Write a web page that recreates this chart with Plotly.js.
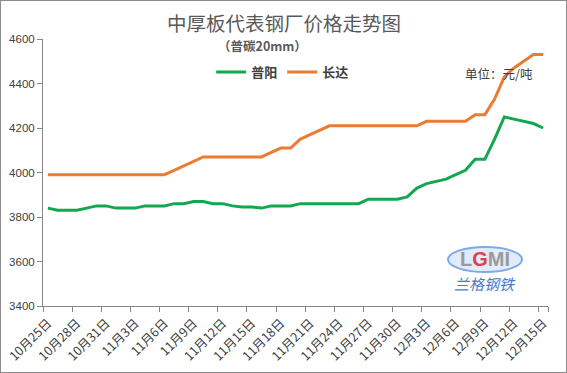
<!DOCTYPE html>
<html>
<head>
<meta charset="utf-8">
<script src="https://cdn.plot.ly/plotly-3.0.1.min.js"></script>
<style>
html,body{margin:0;padding:0;background:#fff;}
#wrap{position:relative;width:567px;height:373px;}
#chart{width:567px;height:373px;}
#frame{position:absolute;left:0;top:0;width:565px;height:371px;border:1px solid #8c8c8c;pointer-events:none;}
</style>
</head>
<body>
<div id="wrap"><div id="chart"></div><div id="frame"></div></div>
<script>
const dates = [
 "10月25日","10月26日","10月27日","10月28日","10月29日","10月30日","10月31日",
 "11月1日","11月2日","11月3日","11月4日","11月5日","11月6日","11月7日","11月8日","11月9日","11月10日",
 "11月11日","11月12日","11月13日","11月14日","11月15日","11月16日","11月17日","11月18日","11月19日","11月20日",
 "11月21日","11月22日","11月23日","11月24日","11月25日","11月26日","11月27日","11月28日","11月29日","11月30日",
 "12月1日","12月2日","12月3日","12月4日","12月5日","12月6日","12月7日","12月8日","12月9日","12月10日",
 "12月11日","12月12日","12月13日","12月14日","12月15日"
];
const puyang = [
 3840,3830,3830,3830,3840,3850,3850,3840,3840,3840,3850,3850,3850,3860,3860,3870,3870,
 3860,3860,3850,3845,3845,3840,3850,3850,3850,3860,3860,3860,3860,3860,3860,3860,3880,
 3880,3880,3880,3890,3930,3950,3960,3970,3990,4010,4060,4060,4150,4250,4240,4230,4220,4200
];
const changda = [
 3990,3990,3990,3990,3990,3990,3990,3990,3990,3990,3990,3990,3990,4010,4030,4050,4070,
 4070,4070,4070,4070,4070,4070,4090,4110,4110,4150,4170,4190,4210,4210,4210,4210,4210,
 4210,4210,4210,4210,4210,4230,4230,4230,4230,4230,4260,4260,4330,4430,4470,4500,4530,4530
];
const seriesNames = ["普阳","长达"];
const seriesColors = ["#13A84F","#EC7B33"];
const yTicks = [3400,3600,3800,4000,4200,4400,4600];
const xTicks = dates.filter((d,i)=>i%3===0);

const cjk = '"Noto Sans CJK SC", "Microsoft YaHei", sans-serif';
const traces = [
 {x: dates, y: puyang, name: seriesNames[0], type:'scatter', mode:'lines',
  line:{color:seriesColors[0], width:3}},
 {x: dates, y: changda, name: seriesNames[1], type:'scatter', mode:'lines',
  line:{color:seriesColors[1], width:3}}
];
const layout = {
 width:567, height:373,
 margin:{l:43, r:19, t:39, b:67, pad:0},
 paper_bgcolor:'#fff', plot_bgcolor:'#fff',
 font:{family:cjk, color:'#595959', size:11},
 showlegend:true,
 legend:{orientation:'h', x:0.333, y:(306-72)/267, xanchor:'left', yanchor:'middle',
   font:{family:cjk, size:13, color:'#404040', weight:'bold'}, bgcolor:'rgba(0,0,0,0)',
   itemwidth:30, tracegroupgap:0},
 xaxis:{type:'category', range:[-0.5, 51.5], tickvals:xTicks, ticktext:xTicks,
   tickangle:-45, tickson:'boundaries', ticks:'outside', ticklen:5, tickcolor:'#868686',
   ticklabelstandoff:4,
   showline:true, linecolor:'#868686', linewidth:1, showgrid:false, zeroline:false,
   tickfont:{family:cjk, size:12.5, color:'#404040'}},
 yaxis:{range:[3400,4600], tickvals:yTicks, ticks:'outside', ticklen:5, tickcolor:'#868686',
   showline:true, linecolor:'#868686', linewidth:1, showgrid:false, zeroline:false,
   tickfont:{family:'"Liberation Sans", Arial, sans-serif', size:11.5, color:'#404040'}},
 annotations:[
  {text:'中厚板代表钢厂价格走势图', xref:'paper', yref:'paper', x:0.477, y:(306-22)/267,
   xanchor:'center', yanchor:'middle', showarrow:false,
   font:{family:cjk, size:19.5, color:'#595959'}},
  {text:'（普碳20mm）', xref:'paper', yref:'paper', x:0.435, y:(306-45)/267,
   xanchor:'center', yanchor:'middle', showarrow:false,
   font:{family:cjk, size:12.5, color:'#595959', weight:'bold'}},
  {text:'单位：元/吨', xref:'paper', yref:'paper', x:(499-43)/505, y:(306-73)/267,
   xanchor:'center', yanchor:'middle', showarrow:false,
   font:{family:cjk, size:12.5, color:'#404040'}},
  {text:'<span style="color:#9a9a9a">L</span><span style="color:#e0404a">G</span><span style="color:#9a9a9a">MI</span>',
   xref:'paper', yref:'paper', x:(485-43)/505, y:(306-259)/267,
   xanchor:'center', yanchor:'middle', showarrow:false,
   font:{family:'"Liberation Sans", Arial, sans-serif', size:20, weight:'bold'}},
  {text:'兰格钢铁', xref:'paper', yref:'paper', x:(485-43)/505, y:(306-283)/267,
   xanchor:'center', yanchor:'middle', showarrow:false,
   font:{family:cjk, size:15, color:'#4a7bd0', style:'italic'}}
 ],
 shapes:[
  {type:'circle', xref:'paper', yref:'paper', x0:(448-43)/505, x1:(522-43)/505,
   y0:(306-272)/267, y1:(306-247)/267, line:{color:'#7fa8e8', width:2},
   fillcolor:'rgba(170,200,240,0.35)', layer:'below'}
 ]
};
Plotly.newPlot('chart', traces, layout, {displayModeBar:false, staticPlot:true});
</script>
</body>
</html>
